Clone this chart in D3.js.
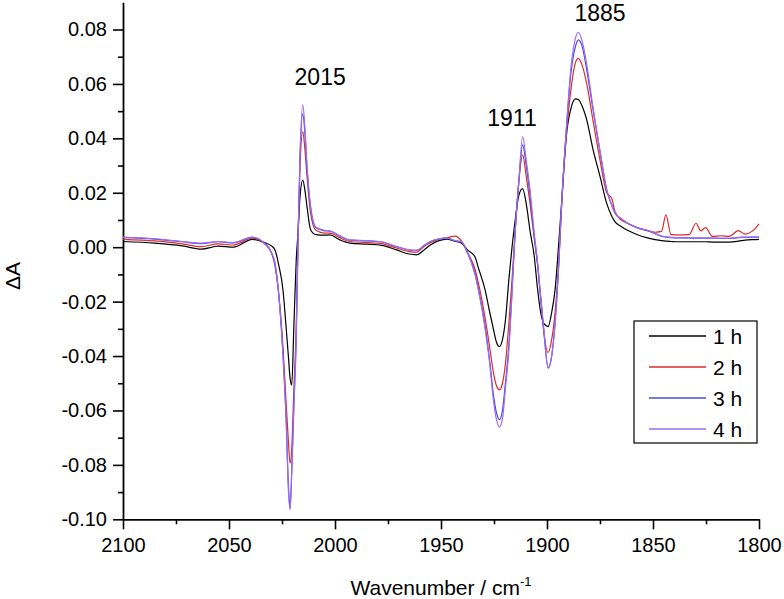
<!DOCTYPE html>
<html>
<head>
<meta charset="utf-8">
<script src="https://cdn.jsdelivr.net/npm/d3@7"></script>
<style>
  body { margin: 0; background: #fff; }
  text { font-family: Arial, "Liberation Sans", sans-serif; fill: #000; }
</style>
</head>
<body>
<div id="chart"></div>
<script>
// Wavenumbers (cm-1), shared by all series
const wavenumbers = [2100, 2085, 2072, 2063, 2055, 2048, 2039, 2033, 2030, 2028.3, 2026.7, 2024.5, 2023, 2022, 2021.2, 2020.4, 2019.4, 2018.3, 2017.4, 2016.5, 2015.2, 2014.2, 2013.2, 2011.5, 2009, 2005, 2002.4, 1998, 1993, 1985, 1978, 1971, 1965, 1961.5, 1958, 1955, 1951, 1947.4, 1943.4, 1940.3, 1937.5, 1934, 1932.4, 1929.2, 1927, 1925.3, 1923.8, 1922.4, 1921, 1919.5, 1918, 1916.5, 1915, 1913.3, 1911.5, 1909.8, 1908, 1906, 1904.5, 1903, 1901.5, 1899.5, 1897.8, 1896.2, 1894.5, 1893, 1891, 1888.7, 1886.5, 1885.2, 1883.5, 1881, 1878.6, 1875, 1871.8, 1869.5, 1867.9, 1865, 1862, 1857, 1853, 1849, 1846, 1843.9, 1841.5, 1838, 1833, 1829.7, 1827.5, 1825.2, 1822, 1818, 1814, 1809.8, 1806.5, 1803, 1800];

const h1 = [0.0021, 0.0015, 0.0005, -0.0007, 0.0004, 0.0000, 0.0029, 0.0016, 0.0005, -0.001, -0.006, -0.016, -0.030, -0.040, -0.048, -0.0506, -0.029, -0.005, 0.006, 0.0186, 0.0247, 0.021, 0.0149, 0.0064, 0.0046, 0.0044, 0.0045, 0.0028, 0.0015, 0.0011, 0.0007, -0.0010, -0.0025, -0.0028, -0.0010, 0.0008, 0.0024, 0.0030, 0.0022, 0.0015, -0.0010, -0.0035, -0.0075, -0.0157, -0.024, -0.030, -0.035, -0.0365, -0.034, -0.026, -0.012, 0.000, 0.010, 0.019, 0.0215, 0.016, 0.006, -0.0035, -0.0150, -0.024, -0.028, -0.0292, -0.024, -0.0157, 0.001, 0.0174, 0.040, 0.051, 0.0545, 0.0543, 0.052, 0.046, 0.037, 0.026, 0.016, 0.0115, 0.0093, 0.0076, 0.0062, 0.0045, 0.0035, 0.0028, 0.0024, 0.0022, 0.0021, 0.0020, 0.0020, 0.0020, 0.0020, 0.0020, 0.0019, 0.0019, 0.0019, 0.0022, 0.0026, 0.0028, 0.0029];

const h2 = [0.0029, 0.0023, 0.0012, 0.0002, 0.0012, 0.0008, 0.0033, 0.0012, -0.002, -0.007, -0.016, -0.037, -0.058, -0.071, -0.0794, -0.074, -0.052, -0.030, 0.004, 0.030, 0.0425, 0.036, 0.026, 0.0125, 0.0062, 0.0052, 0.0052, 0.0036, 0.0021, 0.0017, 0.0013, -0.0003, -0.0016, -0.0018, 0.0003, 0.0016, 0.0030, 0.0034, 0.0041, 0.0022, -0.002, -0.008, -0.013, -0.026, -0.037, -0.046, -0.051, -0.0524, -0.050, -0.042, -0.028, -0.012, 0.006, 0.024, 0.0339, 0.026, 0.016, 0.003, -0.006, -0.018, -0.031, -0.0387, -0.034, -0.024, -0.006, 0.017, 0.040, 0.058, 0.068, 0.0694, 0.067, 0.059, 0.048, 0.032, 0.020, 0.018, 0.013, 0.010, 0.0088, 0.0070, 0.0062, 0.0055, 0.0058, 0.0119, 0.0046, 0.0045, 0.0046, 0.0088, 0.0060, 0.0072, 0.0040, 0.0042, 0.0040, 0.0061, 0.0048, 0.0060, 0.0086];

const h3 = [0.0035, 0.0030, 0.0020, 0.0013, 0.0020, 0.0016, 0.0036, 0.0012, -0.002, -0.006, -0.016, -0.040, -0.064, -0.087, -0.0959, -0.082, -0.058, -0.033, 0.004, 0.033, 0.049, 0.042, 0.029, 0.0145, 0.0072, 0.0060, 0.0059, 0.0042, 0.0026, 0.0023, 0.0019, 0.0002, -0.0010, -0.0012, 0.0006, 0.0021, 0.0030, 0.0033, 0.0024, 0.0018, -0.002, -0.0095, -0.0150, -0.029, -0.042, -0.054, -0.061, -0.0634, -0.060, -0.049, -0.036, -0.016, 0.006, 0.024, 0.0376, 0.030, 0.019, 0.004, -0.006, -0.019, -0.031, -0.0443, -0.040, -0.028, -0.007, 0.0174, 0.042, 0.064, 0.074, 0.0762, 0.074, 0.064, 0.052, 0.035, 0.021, 0.0155, 0.0125, 0.0105, 0.0088, 0.0070, 0.0062, 0.0050, 0.0040, 0.0037, 0.0035, 0.0034, 0.0034, 0.0033, 0.0033, 0.0033, 0.0033, 0.0032, 0.0032, 0.0035, 0.0036, 0.0037, 0.0037];

const h4 = [0.0037, 0.0031, 0.0021, 0.0015, 0.0021, 0.0017, 0.0037, 0.0012, -0.002, -0.006, -0.016, -0.040, -0.065, -0.089, -0.0965, -0.083, -0.059, -0.034, 0.004, 0.034, 0.0523, 0.044, 0.030, 0.015, 0.0073, 0.0062, 0.0060, 0.0043, 0.0027, 0.0024, 0.0020, 0.0002, -0.0010, -0.0012, 0.0006, 0.0021, 0.0031, 0.0033, 0.0024, 0.0020, -0.002, -0.010, -0.0157, -0.030, -0.043, -0.056, -0.0635, -0.0661, -0.063, -0.051, -0.038, -0.017, 0.006, 0.024, 0.0406, 0.032, 0.021, 0.005, -0.005, -0.018, -0.030, -0.0445, -0.040, -0.028, -0.007, 0.0174, 0.042, 0.066, 0.077, 0.079, 0.076, 0.066, 0.053, 0.0355, 0.021, 0.0155, 0.0125, 0.0105, 0.0088, 0.0070, 0.0063, 0.0050, 0.0041, 0.0038, 0.0036, 0.0035, 0.0034, 0.0034, 0.0034, 0.0033, 0.0033, 0.0033, 0.0033, 0.0036, 0.0037, 0.0037, 0.0037];

const seriesNames = ["1 h", "2 h", "3 h", "4 h"];
const seriesColors = ["#000000", "#dd2a2a", "#4b4bd6", "#9a6cf2"];
const seriesValues = [h1, h2, h3, h4];

const peakLabels = [
    { text: "2015", w: 2007, v: 0.0596 },
    { text: "1911", w: 1916.5, v: 0.0446 },
    { text: "1885", w: 1875, v: 0.0830 }
];

const xTicks = [2100, 2050, 2000, 1950, 1900, 1850, 1800];
const yTicks = [-0.10, -0.08, -0.06, -0.04, -0.02, 0.00, 0.02, 0.04, 0.06, 0.08];

const margin = { top: 2.3, right: 25, bottom: 79.7, left: 123 },
    width = 784 - margin.left - margin.right,
    height = 599 - margin.top - margin.bottom;

const svg = d3.select("#chart")
    .append("svg")
    .attr("width", 784)
    .attr("height", 599)
    .append("g")
    .attr("transform", `translate(${margin.left},${margin.top})`);

const x = d3.scaleLinear().domain([2100, 1800]).range([0, width]);
const y = d3.scaleLinear().domain([-0.10, 0.09]).range([height, 0]);

// minor ticks
svg.append("g")
    .attr("transform", `translate(0,${height})`)
    .call(d3.axisBottom(x).tickValues(d3.range(2075, 1800, -50)).tickSize(5).tickFormat(""))
    .call(g => g.select(".domain").remove());
svg.append("g")
    .call(d3.axisLeft(y).tickValues(d3.range(-0.09, 0.09, 0.02)).tickSize(5).tickFormat(""))
    .call(g => g.select(".domain").remove());

// X axis
const xAxis = svg.append("g")
    .attr("transform", `translate(0,${height})`)
    .call(d3.axisBottom(x).tickValues(xTicks).tickSize(10).tickSizeOuter(0).tickPadding(9).tickFormat(d3.format("d")));
xAxis.selectAll("text").attr("font-size", 20).style("font-family", "Arial, 'Liberation Sans', sans-serif");

// Y axis
const fmtY = d3.format(".2f");
const yAxis = svg.append("g")
    .call(d3.axisLeft(y).tickValues(yTicks).tickSize(10).tickSizeOuter(0).tickPadding(6)
        .tickFormat(d => fmtY(d).replace("\u2212", "-")));
yAxis.selectAll("text").attr("font-size", 20).style("font-family", "Arial, 'Liberation Sans', sans-serif");

svg.selectAll(".domain").attr("stroke-width", 1.8);
svg.selectAll(".tick line").attr("stroke-width", 1.6);

// Lines
const line = d3.line()
    .x((d, i) => x(wavenumbers[i]))
    .y(d => y(d))
    .curve(d3.curveMonotoneX);

seriesValues.forEach((vals, k) => {
    svg.append("path")
        .datum(vals)
        .attr("fill", "none")
        .attr("stroke", seriesColors[k])
        .attr("stroke-width", 1.2)
        .attr("d", line);
});

// Peak labels
svg.selectAll(".peak")
    .data(peakLabels)
    .enter().append("text")
    .attr("class", "peak")
    .attr("x", d => x(d.w))
    .attr("y", d => y(d.v))
    .attr("text-anchor", "middle")
    .attr("font-size", 23)
    .text(d => d.text);

// Axis titles
const xTitle = svg.append("text")
    .attr("x", width / 2)
    .attr("y", 595 - margin.top)
    .attr("text-anchor", "middle")
    .attr("font-size", 21);
xTitle.append("tspan").text("Wavenumber / cm");
xTitle.append("tspan").attr("font-size", 13).attr("dy", -9).text("-1");

svg.append("text")
    .attr("transform", `translate(${20 - margin.left},${276 - margin.top}) rotate(-90)`)
    .attr("text-anchor", "middle")
    .attr("font-size", 21)
    .text("ΔA");

// Legend
const legend = svg.append("g")
    .attr("transform", `translate(${634 - margin.left},${321 - margin.top})`);

legend.append("rect")
    .attr("width", 123)
    .attr("height", 122)
    .attr("fill", "#fff")
    .attr("stroke", "#000")
    .attr("stroke-width", 1.2);

const item = legend.selectAll(".item")
    .data(seriesNames)
    .enter().append("g")
    .attr("class", "item")
    .attr("transform", (d, i) => `translate(0,${15 + i * 31})`);

item.append("line")
    .attr("x1", 15)
    .attr("x2", 72)
    .attr("stroke", (d, i) => seriesColors[i])
    .attr("stroke-width", 1.4);

item.append("text")
    .attr("x", 79)
    .attr("dy", "0.36em")
    .attr("font-size", 21)
    .text(d => d);
</script>
</body>
</html>
